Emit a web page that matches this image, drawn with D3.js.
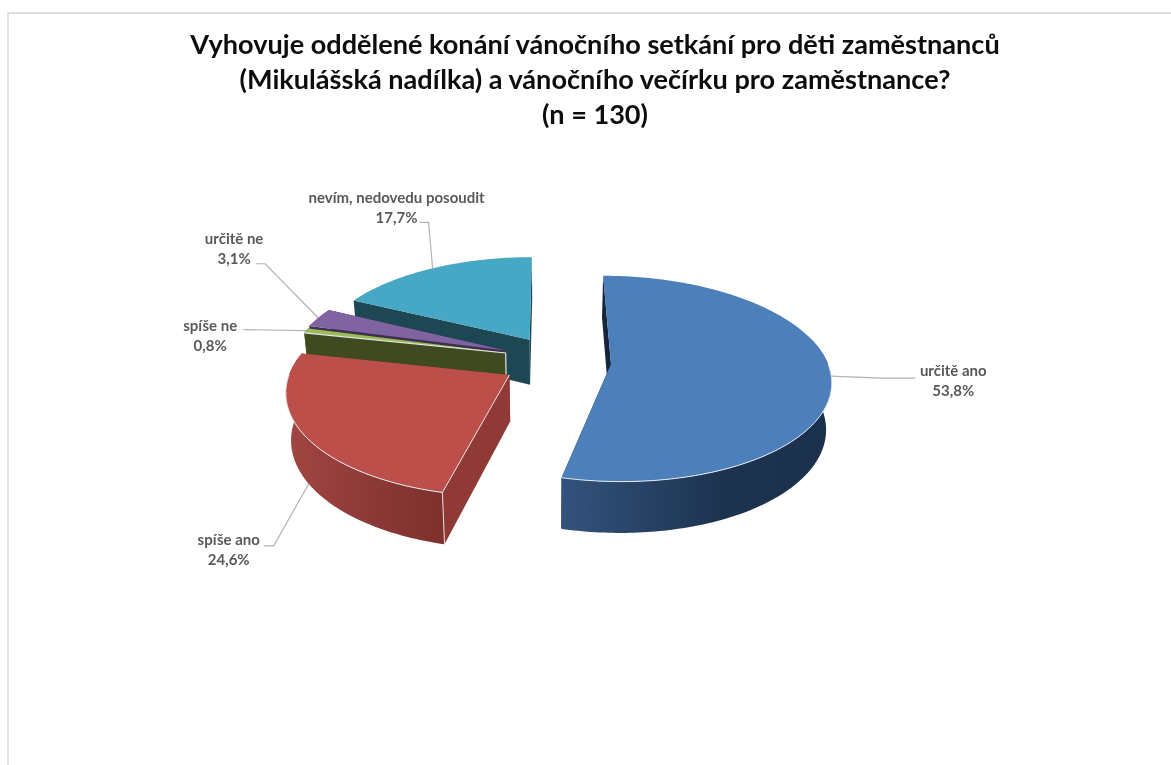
<!DOCTYPE html>
<html lang="cs"><head><meta charset="utf-8">
<script src="https://cdnjs.cloudflare.com/ajax/libs/d3/7.8.5/d3.min.js"></script>
<style>html,body{margin:0;padding:0;background:#fff}svg{display:block;filter:blur(.5px)}</style>
</head><body><svg id="c" width="1171" height="765"></svg>
<script>
const categories = ["určitě ano","spíše ano","spíše ne","určitě ne","nevím, nedovedu posoudit"];
const values = [53.8,24.6,0.8,3.1,17.7];
const valueLabels = ["53,8%","24,6%","0,8%","3,1%","17,7%"];
const titleLines = ["Vyhovuje oddělené konání vánočního setkání pro děti zaměstnanců","(Mikulášská nadílka) a vánočního večírku pro zaměstnance?","(n = 130)"];
const topColors = ["#4d7fba","#bd4f4b","#9bbb59","#8064a2","#46a8c4"];
const edgeColors = ["#14253c","#8f3a37","#3f4a20","#3f3051","#1c4753"];
const rimFrom = ["#33527c","#a24643","#4a5a26","#4a3860","#1f5060"];
const rimMid = ["#1c3350","#8a3835","#3f4a20","#3f3051","#1c4753"];
const rimTo = ["#1b304c","#7e302d","#3f4a20","#3f3051","#1c4753"];
// explosion of each slice on the ground plane
const explode = [[63,0],[-38,24],[-43,-25],[-43,-31],[-19,-56]];
// layout of labels relative to the leader anchor
const leaderLayout = [
 {wall:0, pts:[[50,2],[84,2]], lx:122, ly:0},
 {wall:1, pts:[[-35,62],[-45,62]], lx:-80, ly:61},
 {wall:0, pts:[[-63,-1]], lx:-96, ly:0},
 {wall:0, pts:[[-53,-54],[-62,-54]], lx:-84, ly:-74},
 {wall:0, pts:[[-4,-46],[-13,-46]], lx:-36, ly:-65}
];
const W=1171,H=765,PX=548,PY=364,D=1575,K=.448,RX=217,RY=225,DEPTH=46,SHRINK=.98;
const svg=d3.select("#c");
const defs=svg.append("defs");
const pie=d3.pie().sort(null).value(d=>d);
const slices=pie(values);
function proj(i,a,r,bottom){
  const X=explode[i][0]+r*RX*Math.sin(a), Y=explode[i][1]-r*RY*Math.cos(a);
  const f=D/(D-Y), s=bottom?SHRINK:1;
  return [PX+X*f*s, PY+K*Y*f*s+(bottom?DEPTH*f:0)];
}
const line=d3.line();
const range=(a,b)=>{const n=Math.max(2,Math.ceil(Math.abs(b-a)*180/Math.PI));return d3.range(n+1).map(k=>a+(b-a)*k/n);};
const rad=d=>d*Math.PI/180;
// frame
const frame=d3.path();frame.moveTo(8,765);frame.lineTo(8,13);frame.lineTo(1171,13);
svg.append("path").attr("d",frame.toString()).attr("fill","none").attr("stroke","#d4d4d4").attr("stroke-width",1.3);
// draw order back to front: blue, teal, purple, green, red
[0,4,3,2,1].forEach(i=>{
  const s=slices[i], a0=s.startAngle, a1=s.endAngle;
  const g=svg.append("g").attr("class","slice");
  const wall=(a)=>[proj(i,a,0,false),proj(i,a,1,false),proj(i,a,1,true),proj(i,a,0,true)];
  g.append("path").attr("d",line(wall(a1))+"Z").attr("fill",edgeColors[i]);
  g.append("path").attr("d",line(wall(a0))+"Z").attr("fill",edgeColors[i]);
  // outer rim, a little wider than the part facing the viewer because of perspective
  const b0=Math.max(a0,rad(75)), b1=Math.min(a1,rad(285));
  if(b1>b0){
    const top=range(b0,b1).map(a=>proj(i,a,1,false));
    const bot=range(b1,b0).map(a=>proj(i,a,1,true));
    const id="rim"+i;
    const xs=top.map(p=>p[0]);
    const lg=defs.append("linearGradient").attr("id",id).attr("gradientUnits","userSpaceOnUse")
      .attr("x1",d3.min(xs)).attr("x2",d3.max(xs)).attr("y1",0).attr("y2",0);
    lg.append("stop").attr("offset",0).attr("stop-color",rimFrom[i]);
    lg.append("stop").attr("offset",.6).attr("stop-color",rimMid[i]);
    lg.append("stop").attr("offset",1).attr("stop-color",rimTo[i]);
    g.append("path").attr("d",line(top.concat(bot))+"Z").attr("fill","url(#"+id+")");
  }
  // top face
  const face=[proj(i,0,0,false)].concat(range(a0,a1).map(a=>proj(i,a,1,false)));
  g.append("path").attr("d",line(face)+"Z").attr("fill",topColors[i]);
  // highlight on the edges
  const h0=Math.max(a0,rad(90)), h1=Math.min(a1,rad(270));
  if(h1>h0) g.append("path").attr("d",line(range(h0,h1).map(a=>proj(i,a,1,false)))).attr("fill","none").attr("stroke","#e9edf3").attr("stroke-width",1);
  if(i===1){
    g.append("path").attr("d",line([proj(i,a0,0,false),proj(i,a0,1,false),proj(i,a0,1,true)])).attr("fill","none").attr("stroke","#e9dcdc").attr("stroke-width",1);
  }
  if(i===2){
    g.append("path").attr("d",line([proj(i,a0,1,false),proj(i,a0,0,false),proj(i,a0,0,true)])).attr("fill","none").attr("stroke","#e3e6e6").attr("stroke-width",1.2);
  }
});
// leaders and labels
slices.forEach((s,i)=>{
  const mid=(s.startAngle+s.endAngle)/2;
  const L=leaderLayout[i];
  const start=proj(i,mid,1,!!L.wall);
  const pts=[start].concat(L.pts.map(p=>[start[0]+p[0],start[1]+p[1]]));
  svg.insert("path",".slice").attr("d",line(pts)).attr("fill","none").attr("stroke","#b3b3b3").attr("stroke-width",1.2);
  const t=svg.append("text").attr("text-anchor","middle").attr("font-family","Lato, sans-serif").attr("font-weight",700).attr("font-size",15).attr("fill","#595959");
  t.append("tspan").attr("x",start[0]+L.lx).attr("y",start[1]+L.ly).text(categories[i]);
  t.append("tspan").attr("x",start[0]+L.lx).attr("y",start[1]+L.ly+20).text(valueLabels[i]);
});
// title
const title=svg.append("text").attr("text-anchor","middle").attr("font-family","Lato, sans-serif").attr("font-weight",700).attr("font-size",27.1).attr("fill","#0d0d0d");
const titleY=d3.scalePoint().domain(titleLines).range([54,124]);
titleLines.forEach(l=>title.append("tspan").attr("x",595).attr("y",titleY(l)).text(l));
</script></body></html>
